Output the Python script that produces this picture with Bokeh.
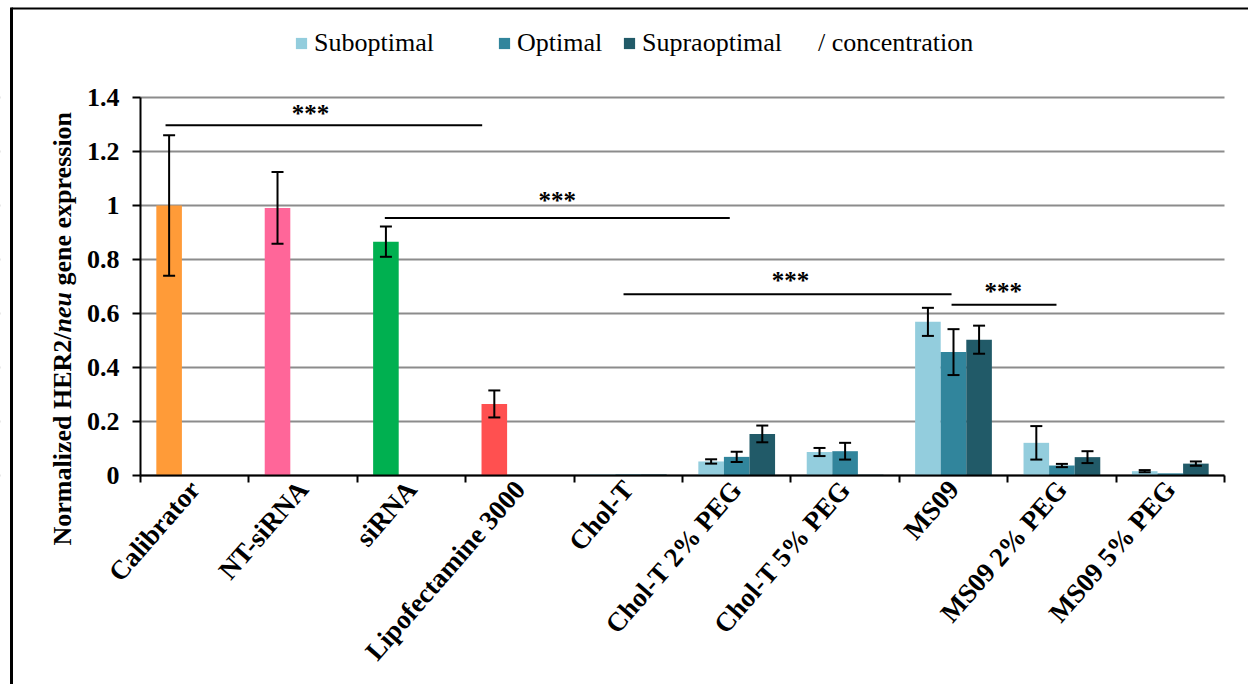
import math
from bokeh.plotting import figure
from bokeh.models import (Range1d, FixedTicker, NumeralTickFormatter, Legend, LegendItem,
                          Whisker, TeeHead, ColumnDataSource, Label)
from bokeh.core.properties import value
from bokeh.embed import file_html
from bokeh.resources import INLINE

# ---------------- data ----------------
categories = ["Calibrator", "NT-siRNA", "siRNA", "Lipofectamine 3000", "Chol-T",
              "Chol-T 2% PEG", "Chol-T 5% PEG", "MS09", "MS09 2% PEG", "MS09 5% PEG"]

control_groups = ["Calibrator", "NT-siRNA", "siRNA", "Lipofectamine 3000"]
control_values = [1.0, 0.991, 0.866, 0.265]
control_errors = [0.26, 0.133, 0.056, 0.05]
control_colors = ["#FF9B38", "#FF6699", "#00B050", "#FF5050"]

formulation_groups = ["Chol-T", "Chol-T 2% PEG", "Chol-T 5% PEG", "MS09", "MS09 2% PEG", "MS09 5% PEG"]
suboptimal = [0.004, 0.052, 0.087, 0.569, 0.121, 0.016]
suboptimal_err = [0.0, 0.008, 0.015, 0.052, 0.062, 0.004]
optimal = [0.004, 0.069, 0.090, 0.457, 0.037, 0.008]
optimal_err = [0.0, 0.019, 0.031, 0.085, 0.006, 0.0]
supraoptimal = [0.004, 0.154, 0.003, 0.503, 0.068, 0.044]
supraoptimal_err = [0.0, 0.031, 0.0, 0.052, 0.022, 0.008]

series_names = ["Suboptimal", "Optimal", "Supraoptimal"]
series_colors = ["#93CDDD", "#31859C", "#215A68"]
legend_note = "/ concentration"

# significance brackets (category units / data units)
sig_x0 = [0.231, 2.254, 4.456, 7.482]
sig_x1 = [3.152, 5.436, 7.482, 8.45]
sig_y = [1.297, 0.954, 0.671, 0.632]
sig_text_x = [1.568, 3.844, 5.996, 7.96]
sig_text_y = [1.341, 1.019, 0.722, 0.681]
sig_text = ["***", "***", "***", "***"]

y_ticks = [0, 0.2, 0.4, 0.6, 0.8, 1.0, 1.2, 1.4]
y_title_parts = ["Normalized HER2/", "neu", "gene expression"]
y_title_styles = ["bold", "bold italic", "bold"]

# ---------------- layout constants ----------------
FONT = "Liberation Serif"
W, H = 1248, 684
AX_X, UNIT_X = 140.0, 108.4     # pixel of category boundary 0, pixels per category
AX_Y, UNIT_Y = 475.0, 270.0     # pixel of y=0, pixels per unit
OFFSETS = [0.264, 0.5, 0.736]
BAR_W = 0.236
Y_MAX = 1.4


def dx(px):
    return (px - AX_X) / UNIT_X


def dy(py):
    return (AX_Y - py) / UNIT_Y


p = figure(width=W, height=H, output_backend="svg", toolbar_location=None,
           x_range=Range1d(dx(0), dx(W)), y_range=Range1d(dy(H), dy(0)),
           min_border=0, min_border_left=0, min_border_right=0,
           min_border_top=0, min_border_bottom=0)
p.title.visible = False
p.outline_line_color = None
p.background_fill_color = "white"
p.border_fill_color = "white"

# grid (horizontal lines) limited to the plot area by white masks
p.xgrid.grid_line_color = None
p.ygrid.grid_line_color = "#8C8C8C"
p.ygrid.grid_line_width = 2
p.quad(left=[dx(0), 10], right=[0, dx(W)], bottom=[-0.02, -0.02], top=[Y_MAX + 0.02, Y_MAX + 0.02],
       fill_color="white", line_color=None)

# outer border (left and top)
p.segment(x0=[dx(11), dx(11)], y0=[dy(H), dy(8)], x1=[dx(11), dx(W)], y1=[dy(7), dy(8)],
          line_color="black", line_width=[3, 2])

# control bars (single colored bars in the first slot)
ci = [categories.index(c) for c in control_groups]
cx = [i + OFFSETS[0] for i in ci]
p.vbar(x=cx, top=control_values, width=BAR_W, fill_color=control_colors, line_color=None)

# formulation bars
fi = [categories.index(c) for c in formulation_groups]
series_vals = [suboptimal, optimal, supraoptimal]
series_errs = [suboptimal_err, optimal_err, supraoptimal_err]
series_renderers = []
wx, wu, wl = [], [], []
for x, v, e in zip(cx, control_values, control_errors):
    wx.append(x); wu.append(v + e); wl.append(v - e)
for k, (vals, errs) in enumerate(zip(series_vals, series_errs)):
    xs = [i + OFFSETS[k] for i in fi]
    r = p.vbar(x=xs, top=vals, width=BAR_W, fill_color=series_colors[k], line_color=None)
    series_renderers.append(r)
    for x, v, e in zip(xs, vals, errs):
        if e > 0:
            wx.append(x); wu.append(v + e); wl.append(v - e)

wsrc = ColumnDataSource(dict(x=wx, upper=wu, lower=wl))
p.add_layout(Whisker(source=wsrc, base="x", upper="upper", lower="lower", line_width=2,
                     line_color="black", level="annotation",
                     upper_head=TeeHead(size=12, line_width=2, line_color="black"),
                     lower_head=TeeHead(size=12, line_width=2, line_color="black")))

# significance brackets
p.segment(x0=sig_x0, x1=sig_x1, y0=sig_y, y1=sig_y, line_color="black", line_width=2)
p.text(x=sig_text_x, y=sig_text_y, text=sig_text, text_font=value(FONT), text_font_style="bold",
       text_font_size="25px", text_align="center", text_baseline="middle", text_color="black")

# axes (drawn at fixed data locations so the frame can cover the whole canvas)
xa = p.xaxis[0]
xa.fixed_location = 0
xa.bounds = (0, len(categories))
xa.ticker = FixedTicker(ticks=[i + 0.5 for i in range(len(categories))],
                        minor_ticks=list(range(len(categories) + 1)))
xa.major_label_overrides = {i + 0.5: c for i, c in enumerate(categories)}
xa.major_label_orientation = math.radians(49)
xa.major_tick_line_color = None
xa.minor_tick_line_color = "black"
xa.minor_tick_line_width = 2
xa.minor_tick_out = 7
xa.minor_tick_in = 0
xa.axis_line_color = "black"
xa.axis_line_width = 2
xa.major_label_text_font = FONT
xa.major_label_text_font_style = "bold"
xa.major_label_text_font_size = "27px"
xa.major_label_text_color = "black"
xa.major_label_standoff = 2

ya = p.yaxis[0]
ya.fixed_location = 0
ya.bounds = (0, Y_MAX)
ya.ticker = FixedTicker(ticks=y_ticks)
ya.formatter = NumeralTickFormatter(format="0.[0]")
ya.major_tick_out = 8
ya.major_tick_in = 0
ya.major_tick_line_width = 2
ya.minor_tick_line_color = None
ya.axis_line_color = "black"
ya.axis_line_width = 2
ya.major_label_text_font = FONT
ya.major_label_text_font_style = "bold"
ya.major_label_text_font_size = "26px"
ya.major_label_text_color = "black"
ya.major_label_standoff = 13

# y-axis title with italic "neu" (screen units from the frame's bottom-left)
size = 26
em_widths = [8.194, 1.556]
space = 0.25 * size
ys = [H - 545]
ys.append(ys[0] + em_widths[0] * size)
ys.append(ys[1] + em_widths[1] * size + space)
for txt, yy, style in zip(y_title_parts, ys, y_title_styles):
    p.add_layout(Label(x=62, y=yy, x_units="screen", y_units="screen", text=txt, angle=math.pi / 2,
                       text_font=FONT, text_font_style=style, text_font_size=f"{size}px",
                       text_baseline="alphabetic", text_align="left", text_color="black"))

# legend (one entry per box so each sits where the reference has it)
dummy = p.vbar(x=[-5], top=[0], width=0.1, fill_alpha=0, line_alpha=0)
leg_x = [294, 497, 622]
leg_y = H - 58
for name, r, lx in zip(series_names, series_renderers, leg_x):
    p.add_layout(Legend(items=[LegendItem(label=name, renderers=[r])], orientation="horizontal",
                        location=(lx, leg_y), glyph_width=14, glyph_height=14, label_standoff=6,
                        spacing=0, padding=0, margin=0, border_line_color=None,
                        background_fill_alpha=0, label_text_font=FONT, label_text_font_size="26px",
                        label_height=26, label_text_color="black"), "center")
p.add_layout(Legend(items=[LegendItem(label=legend_note, renderers=[dummy])], orientation="horizontal",
                    location=(818, leg_y), glyph_width=0, glyph_height=14, label_standoff=0,
                    spacing=0, padding=0, margin=0, border_line_color=None,
                    background_fill_alpha=0, label_text_font=FONT, label_text_font_size="26px",
                    label_height=26, label_text_color="black"), "center")

open("out.html", "w").write(file_html(p, INLINE))
